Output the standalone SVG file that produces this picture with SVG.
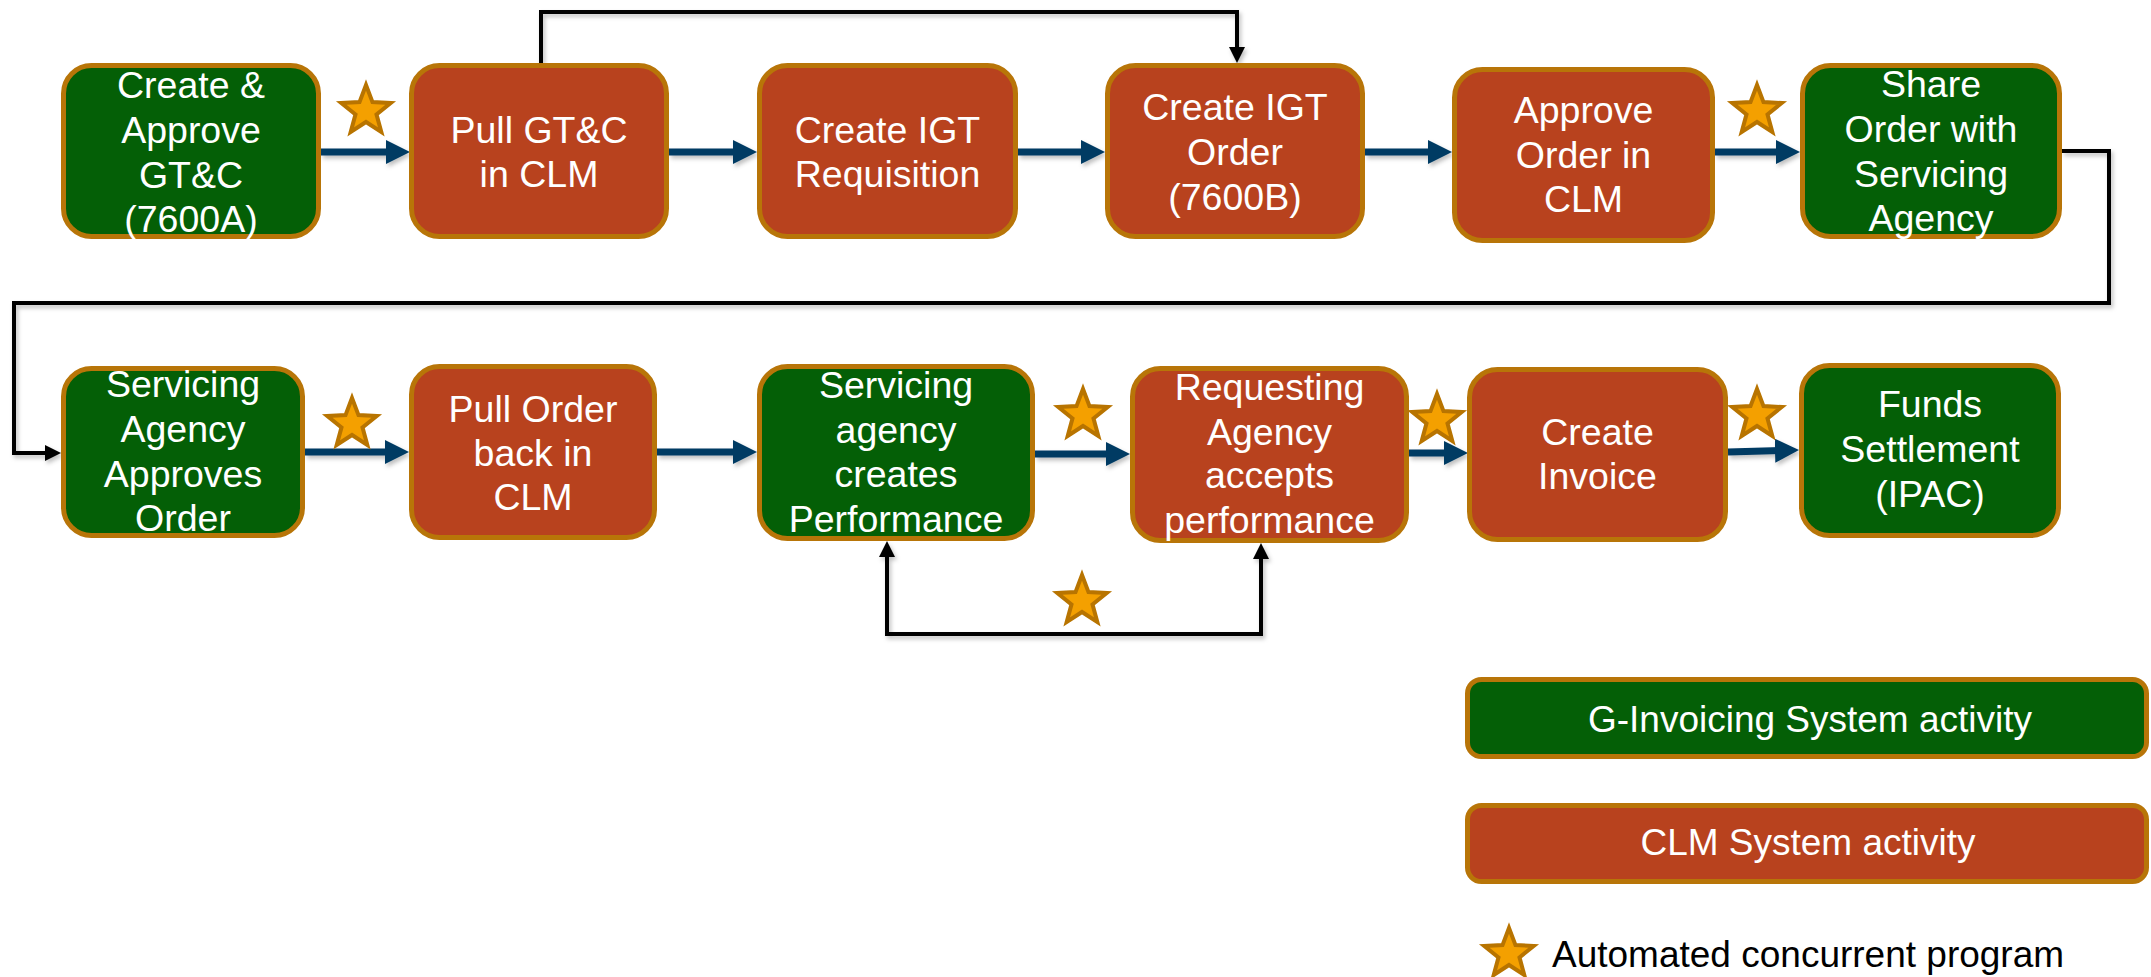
<svg xmlns="http://www.w3.org/2000/svg" width="2151" height="977" viewBox="0 0 2151 977">
<style>
.node rect{stroke:#B87508;stroke-width:5}
.g rect{fill:#045F06}
.r rect{fill:#B8421E}
.node text,.leg text{font-family:"Liberation Sans",Arial,sans-serif;font-size:37.5px;fill:#fff;text-anchor:middle}
.blue{stroke:#033A63;stroke-width:7;fill:none}
.blk{stroke:#000;stroke-width:4;fill:none;stroke-linejoin:miter}
.star{fill:#F4A000;stroke:#B87400;stroke-width:4;stroke-linejoin:miter}
</style>
<defs>
<filter id="sh" x="-5%" y="-20%" width="110%" height="140%"><feDropShadow dx="2" dy="3" stdDeviation="2" flood-color="#000" flood-opacity="0.25"/></filter>
<marker id="ab" markerUnits="userSpaceOnUse" viewBox="0 0 24 24" refX="6" refY="12" markerWidth="24" markerHeight="24" orient="auto"><path d="M0,0 L24,12 L0,24 z" fill="#033A63"/></marker>
<marker id="ak" markerUnits="userSpaceOnUse" viewBox="0 0 16 16" refX="4" refY="8" markerWidth="16" markerHeight="16" orient="auto-start-reverse"><path d="M0,0 L16,8 L0,16 z" fill="#000"/></marker>
<path id="st" class="star" d="M0,-26 L6.5,-8.9 L24.7,-8 L10.5,3.4 L15.3,21 L0,11 L-15.3,21 L-10.5,3.4 L-24.7,-8 L-6.5,-8.9 z"/>
</defs>

<g id="connectors" filter="url(#sh)">
<path class="blue" marker-end="url(#ab)" d="M321,152 H392"/>
<path class="blue" marker-end="url(#ab)" d="M669,152 H739"/>
<path class="blue" marker-end="url(#ab)" d="M1018,152 H1087"/>
<path class="blue" marker-end="url(#ab)" d="M1365,152 H1434"/>
<path class="blue" marker-end="url(#ab)" d="M1715,152 H1782"/>
<path class="blue" marker-end="url(#ab)" d="M305,452 H391"/>
<path class="blue" marker-end="url(#ab)" d="M657,452 H739"/>
<path class="blue" marker-end="url(#ab)" d="M1035,454 H1112"/>
<path class="blue" marker-end="url(#ab)" d="M1409,453 H1450"/>
<path class="blue" marker-end="url(#ab)" d="M1728,452 L1781,450.5"/>
<path class="blk" marker-end="url(#ak)" d="M541,63 V12 H1237 V51"/>
<path class="blk" marker-end="url(#ak)" d="M2062,151 H2109 V303 H14 V453 H49"/>
<path class="blk" marker-start="url(#ak)" marker-end="url(#ak)" d="M887,553 V634 H1261 V555"/>
</g>

<g id="stars">
<use href="#st" x="366" y="111"/>
<use href="#st" x="1757" y="111"/>
<use href="#st" x="352" y="424"/>
<use href="#st" x="1083" y="415"/>
<use href="#st" x="1437" y="420"/>
<use href="#st" x="1757" y="415"/>
<use href="#st" x="1082" y="601"/>
</g>

<g id="n1" class="node g"><rect x="63.5" y="65.5" width="255" height="171" rx="28"/>
<text><tspan x="191" y="98">Create &amp;</tspan><tspan x="191" y="143">Approve</tspan><tspan x="191" y="188">GT&amp;C</tspan><tspan x="191" y="232">(7600A)</tspan></text></g>
<g id="n2" class="node r"><rect x="411.5" y="65.5" width="255" height="171" rx="28"/>
<text><tspan x="539" y="143">Pull GT&amp;C</tspan><tspan x="539" y="187">in CLM</tspan></text></g>
<g id="n3" class="node r"><rect x="759.5" y="65.5" width="256" height="171" rx="28"/>
<text><tspan x="887.5" y="143">Create IGT</tspan><tspan x="887.5" y="187">Requisition</tspan></text></g>
<g id="n4" class="node r"><rect x="1107.5" y="65.5" width="255" height="171" rx="28"/>
<text><tspan x="1235" y="120">Create IGT</tspan><tspan x="1235" y="165">Order</tspan><tspan x="1235" y="210">(7600B)</tspan></text></g>
<g id="n5" class="node r"><rect x="1454.5" y="69.5" width="258" height="171" rx="28"/>
<text><tspan x="1583.5" y="123">Approve</tspan><tspan x="1583.5" y="168">Order in</tspan><tspan x="1583.5" y="212">CLM</tspan></text></g>
<g id="n6" class="node g"><rect x="1802.5" y="65.5" width="257" height="171" rx="28"/>
<text><tspan x="1931" y="97">Share</tspan><tspan x="1931" y="142">Order with</tspan><tspan x="1931" y="187">Servicing</tspan><tspan x="1931" y="231">Agency</tspan></text></g>

<g id="n7" class="node g"><rect x="63.5" y="368.5" width="239" height="167" rx="28"/>
<text><tspan x="183" y="397">Servicing</tspan><tspan x="183" y="442">Agency</tspan><tspan x="183" y="487">Approves</tspan><tspan x="183" y="531">Order</tspan></text></g>
<g id="n8" class="node r"><rect x="411.5" y="366.5" width="243" height="171" rx="28"/>
<text><tspan x="533" y="422">Pull Order</tspan><tspan x="533" y="466">back in</tspan><tspan x="533" y="510">CLM</tspan></text></g>
<g id="n9" class="node g"><rect x="759.5" y="366.5" width="273" height="172" rx="28"/>
<text><tspan x="896" y="398">Servicing</tspan><tspan x="896" y="443">agency</tspan><tspan x="896" y="487">creates</tspan><tspan x="896" y="532">Performance</tspan></text></g>
<g id="n10" class="node r"><rect x="1132.5" y="368.5" width="274" height="172" rx="28"/>
<text><tspan x="1269.5" y="400">Requesting</tspan><tspan x="1269.5" y="445">Agency</tspan><tspan x="1269.5" y="488">accepts</tspan><tspan x="1269.5" y="533">performance</tspan></text></g>
<g id="n11" class="node r"><rect x="1469.5" y="369.5" width="256" height="170" rx="28"/>
<text><tspan x="1597.5" y="445">Create</tspan><tspan x="1597.5" y="489">Invoice</tspan></text></g>
<g id="n12" class="node g"><rect x="1801.5" y="365.5" width="257" height="170" rx="28"/>
<text><tspan x="1930" y="417">Funds</tspan><tspan x="1930" y="462">Settlement</tspan><tspan x="1930" y="507">(IPAC)</tspan></text></g>

<g id="legend-ginvoicing" class="node g leg"><rect x="1467.5" y="679.5" width="679" height="77" rx="14"/>
<text x="1810" y="732" style="font-size:37px">G-Invoicing System activity</text></g>
<g id="legend-clm" class="node r leg"><rect x="1467.5" y="805.5" width="679" height="76" rx="14"/>
<text x="1808" y="855" style="font-size:37px">CLM System activity</text></g>
<g id="legend-star">
<use href="#st" x="1509" y="954"/>
<text x="1552" y="967" style="font-family:'Liberation Sans',Arial,sans-serif;font-size:37px;fill:#000">Automated concurrent program</text>
</g>
</svg>
